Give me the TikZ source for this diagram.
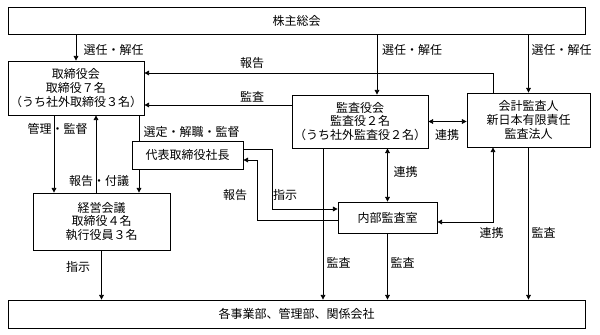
\documentclass[tikz,border=0pt]{standalone}
\usepackage{fontspec}
\newfontfamily\jp{Noto Sans CJK JP}
\usetikzlibrary{arrows.meta, positioning}

\begin{document}
\begin{tikzpicture}[
  x=0.75pt, y=-0.75pt,
  box/.style={draw, line width=0.6pt, inner sep=0pt, align=center,
              font=\jp\fontsize{9}{10.2}\selectfont},
  lbl/.style={inner sep=0pt, font=\jp\fontsize{9}{10.2}\selectfont},
  arr/.style={-{Triangle[length=3.5pt, width=3.5pt]}, line width=0.6pt},
  darr/.style={{Triangle[length=3.5pt, width=3.5pt]}-{Triangle[length=3.5pt, width=3.5pt]},
               line width=0.6pt},
  ln/.style={line width=0.6pt}
]
  \useasboundingbox (0,0) rectangle (600,335);

  \node[box, minimum width=432.75pt, minimum height=20.25pt] (sk) at (296.5,20.5) {株主総会};
  \node[box, minimum width=102pt, minimum height=40.5pt] (tk) at (76,88)
    {取締役会\\取締役７名\\（うち社外取締役３名）};
  \node[box, minimum width=102pt, minimum height=39.75pt] (ky) at (360,121.5)
    {監査役会\\監査役２名\\（うち社外監査役２名）};
  \node[box, minimum width=92.25pt, minimum height=40.5pt] (kk) at (528.5,120)
    {会計監査人\\新日本有限責任\\監査法人};
  \node[box, minimum width=83.25pt, minimum height=21pt] (sc) at (187.5,155) {代表取締役社長};
  \node[box, minimum width=102.75pt, minimum height=42.75pt] (kg) at (101.5,221.5)
    {経営会議\\取締役４名\\執行役員３名};
  \node[box, minimum width=74.25pt, minimum height=23.25pt] (nb) at (387.5,217.5) {内部監査室};
  \node[box, minimum width=432.75pt, minimum height=21pt] (jg) at (296.5,314)
    {各事業部、管理部、関係会社};

  \coordinate (hk) at (493,73);
  \coordinate (ks) at (0,105);
  \coordinate (sn) at (377,0);
  \coordinate (kr) at (54,0);
  \coordinate (fg) at (96,0);
  \coordinate (st) at (139,0);
  \coordinate (sjA) at (272,149);
  \coordinate (sjB) at (272,209);
  \coordinate (hkA) at (257,220);
  \coordinate (hkB) at (257,160);
  \coordinate (rk) at (493,222);
  \coordinate (ks2) at (323,0);

  \draw[arr] (sk.south -| tk.north) -- (tk.north);
  \draw[arr] (sk.south -| sn) -- (ky.north -| sn);
  \draw[arr] (sk.south -| kk.north) -- (kk.north);
  \draw[arr] (kk.north -| hk) -- (hk) -- (tk.east |- hk);
  \draw[arr] (ky.west |- ks) -- (tk.east |- ks);
  \draw[darr] (ky.east) -- (kk.west |- ky.east);
  \draw[arr] (tk.south -| kr) -- (kg.north -| kr);
  \draw[arr] (kg.north -| fg) -- (tk.south -| fg);
  \draw[ln] (tk.south -| st) -- (sc.north -| st);
  \draw[arr] (sc.south -| st) -- (kg.north -| st);
  \draw[arr] (sc.east |- sjA) -- (sjA) -- (sjB) -- (nb.west |- sjB);
  \draw[arr] (nb.west |- hkA) -- (hkA) -- (hkB) -- (sc.east |- hkB);
  \draw[darr] (ky.south -| nb.north) -- (nb.north);
  \draw[darr] (kk.south -| rk) -- (rk) -- (nb.east |- rk);
  \draw[arr] (kg.south) -- (jg.north -| kg.south);
  \draw[arr] (ky.south -| ks2) -- (jg.north -| ks2);
  \draw[arr] (nb.south) -- (jg.north -| nb.south);
  \draw[arr] (kk.south) -- (jg.north -| kk.south);

  \node[lbl] (l1) at (113.5,50) {選任・解任};
  \node[lbl] (l2) at (412,50) {選任・解任};
  \node[lbl] (l3) at (561.5,50) {選任・解任};
  \node[lbl] (l4) at (252,63) {報告};
  \node[lbl] (l5) at (252,97) {監査};
  \node[lbl] (l6) at (447,135) {連携};
  \node[lbl] (l7) at (57.5,129) {管理・監督};
  \node[lbl] (l8) at (191.5,132) {選定・解職・監督};
  \node[lbl] (l9) at (99,181) {報告・付議};
  \node[lbl] (l10) at (235,195) {報告};
  \node[lbl] (l11) at (285,195) {指示};
  \node[lbl] (l12) at (405.5,172) {連携};
  \node[lbl] (l13) at (78,267) {指示};
  \node[lbl] (l14) at (338.5,263) {監査};
  \node[lbl] (l15) at (402.5,263) {監査};
  \node[lbl] (l16) at (491.5,233) {連携};
  \node[lbl] (l17) at (543.5,233) {監査};
\end{tikzpicture}
\end{document}
